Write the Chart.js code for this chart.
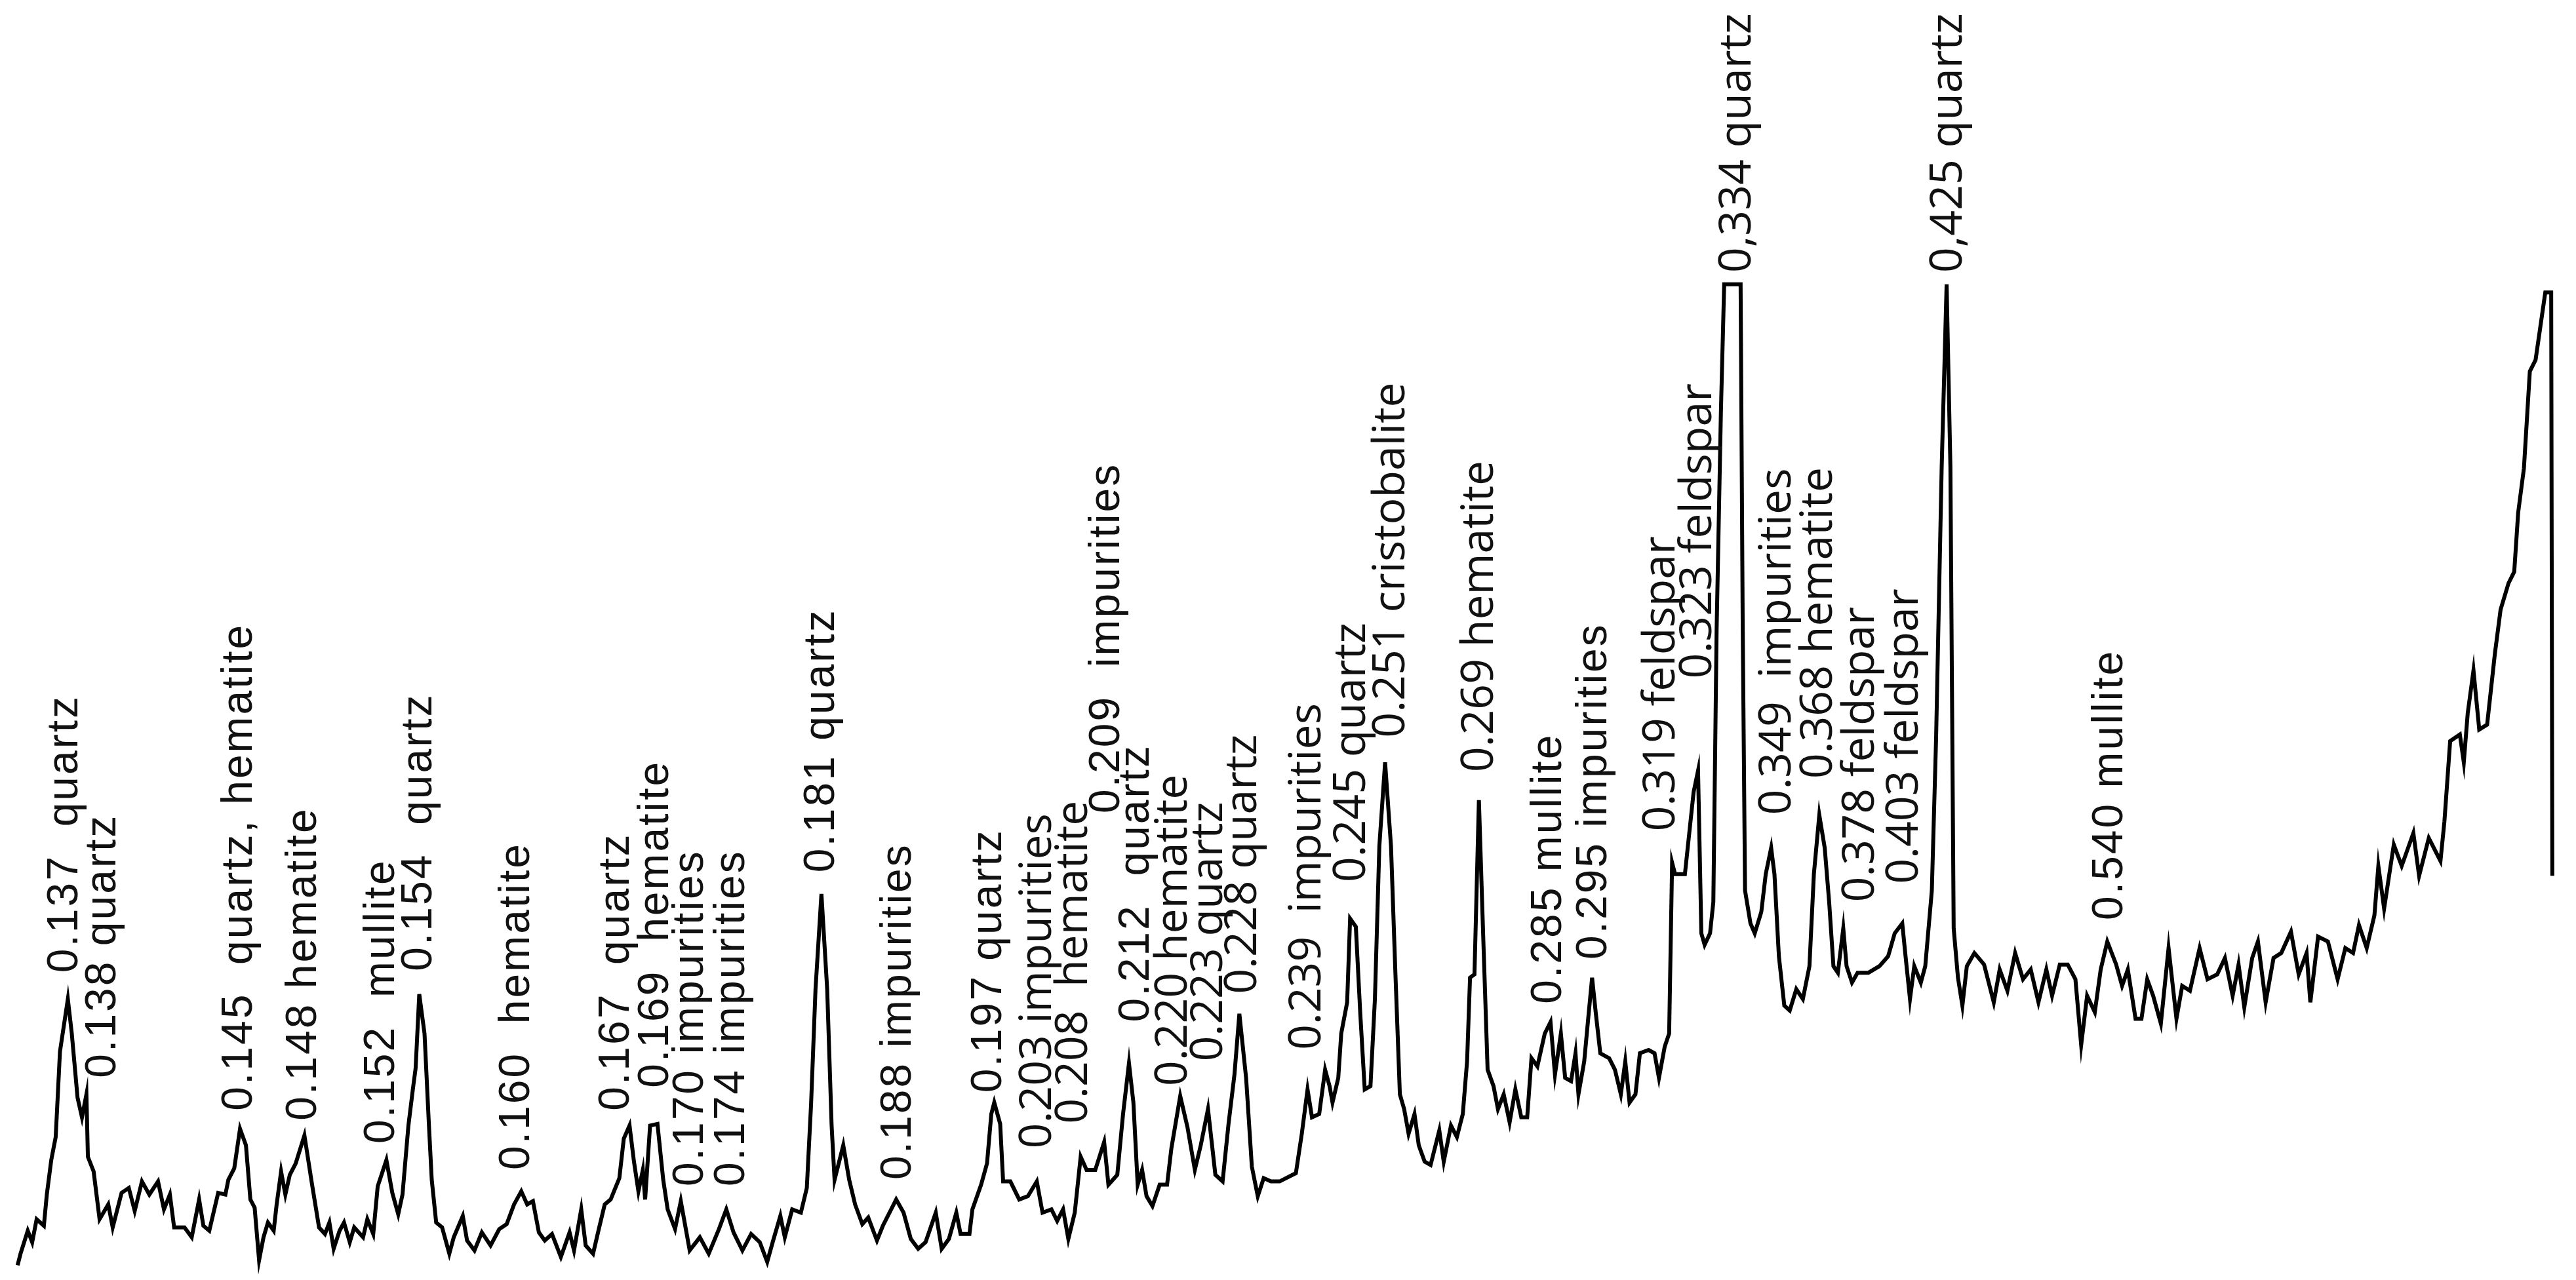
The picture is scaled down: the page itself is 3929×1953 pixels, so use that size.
<!DOCTYPE html>
<html>
<head>
<meta charset="utf-8">
<title>XRD pattern</title>
<script src="https://cdn.jsdelivr.net/npm/chart.js@4.4.1/dist/chart.umd.min.js"></script>
<style>
    html, body { margin: 0; padding: 0; background: #fff; }
    #myChart { display: block; width: 3929px; height: 1953px; }
</style>
</head>
<body>
<canvas id="myChart" width="3929" height="1953"></canvas>
<script>
// scan position (arbitrary units, left to right) and intensity (a.u.)
const positions = [
    10.7, 12.5, 16.9, 19.6, 22.3, 26.7, 28.5, 31.2, 33.9, 36.5, 41.3, 43.7, 47.2, 49.9, 52.6, 53.5, 57.0, 60.6, 65.9, 68.6,
    74.0, 78.4, 82.0, 86.4, 90.9, 96.2, 99.8, 103.4, 106.0, 112.3, 116.7, 121.2, 123.8, 127.4, 132.8, 137.2, 139.0, 142.6, 146.1, 149.7,
    152.4, 155.0, 157.7, 160.4, 163.1, 166.6, 168.4, 171.1, 173.7, 176.4, 180.0, 185.3, 189.8, 194.2, 197.8, 200.5, 203.1, 206.7, 209.4, 212.9,
    215.6, 221.0, 223.6, 227.2, 229.9, 235.2, 238.8, 242.4, 245.0, 248.6, 251.3, 253.0, 255.2, 258.4, 261.1, 262.8, 265.5, 269.1, 273.5, 276.2,
    281.7, 284.3, 288.8, 293.3, 298.6, 303.9, 308.4, 312.9, 317.3, 320.9, 324.4, 328.0, 331.6, 336.0, 341.4, 346.7, 349.4, 353.8, 356.5, 361.0,
    364.5, 368.1, 371.7, 377.0, 379.7, 383.2, 385.9, 388.6, 391.3, 392.7, 395.7, 400.2, 403.7, 406.4, 410.9, 414.4, 419.8, 426.0, 431.4, 437.6,
    442.1, 446.5, 451.9, 457.2, 462.5, 467.0, 470.6, 475.0, 477.7, 482.2, 487.5, 491.1, 493.7, 496.4, 500.0, 503.5, 506.2, 508.0, 513.3, 516.9,
    520.5, 524.9, 528.5, 533.8, 537.4, 545.5, 550.0, 554.4, 558.9, 563.4, 569.6, 573.2, 577.6, 582.1, 584.7, 590.1, 591.9, 597.2, 600.8, 603.4,
    605.2, 608.8, 610.6, 615.0, 620.4, 625.7, 631.1, 634.6, 640.0, 643.5, 647.1, 650.3, 654.2, 657.8, 661.4, 666.7, 672.1, 674.7, 680.1, 683.6,
    687.2, 689.9, 692.5, 695.2, 697.9, 701.5, 705.9, 710.4, 713.0, 718.4, 722.8, 727.3, 730.9, 735.3, 739.8, 744.2, 747.8, 751.4, 754.4, 758.5,
    762.0, 765.6, 769.2, 773.6, 778.9, 788.8, 792.4, 795.9, 798.6, 803.0, 806.6, 809.3, 811.1, 814.6, 816.4, 820.0, 821.8, 825.3, 828.0, 830.7,
    834.2, 836.9, 839.6, 843.1, 846.7, 849.4, 852.1, 854.7, 857.4, 861.0, 863.6, 867.2, 870.8, 876.1, 878.8, 883.2, 886.8, 890.4, 893.0, 894.8,
    897.5, 900.2, 902.8, 905.5, 909.1, 911.8, 915.3, 918.9, 922.4, 926.0, 929.6, 932.2, 935.8, 940.3, 943.8, 946.5, 950.1, 952.7, 956.3, 959.0,
    960.8, 964.3, 967.0, 969.1, 971.4, 974.1, 979.5, 983.0, 986.6, 989.3, 991.9, 995.5, 998.2, 1003.5, 1007.1, 1009.8, 1013.3, 1016.0, 1017.8, 1019.6,
    1025.6, 1030.9, 1033.6, 1035.6, 1037.6, 1040.9, 1042.9, 1044.9, 1047.5, 1049.5, 1059.5, 1060.8, 1062.2, 1065.5, 1068.1, 1072.1, 1074.8, 1078.1, 1080.1, 1082.8,
    1086.1, 1089.4, 1093.4, 1097.4, 1101.4, 1104.1, 1107.4, 1110.7, 1113.4, 1116.0, 1118.7, 1122.0, 1124.0, 1127.3, 1130.7, 1137.3, 1144.0, 1149.3, 1153.3, 1157.9,
    1159.9, 1162.6, 1165.2, 1169.2, 1171.9, 1175.9, 1178.5, 1181.9, 1184.9, 1187.2, 1189.2, 1191.8, 1194.5, 1197.2, 1201.8, 1207.7, 1213.6, 1217.2, 1221.9, 1226.6,
    1231.4, 1236.1, 1240.8, 1245.6, 1249.1, 1253.8, 1258.6, 1263.3, 1266.8, 1270.4, 1275.1, 1278.7, 1282.7, 1288.1, 1291.7, 1295.2, 1299.9, 1303.5, 1307.0, 1310.6,
    1315.3, 1320.0, 1324.8, 1328.3, 1333.0, 1338.9, 1343.7, 1349.6, 1354.3, 1359.0, 1362.6, 1366.1, 1370.9, 1374.4, 1379.1, 1383.9, 1388.6, 1394.5, 1399.2, 1404.0,
    1406.3, 1411.0, 1417.0, 1422.9, 1427.6, 1432.3, 1435.9, 1440.6, 1445.3, 1447.7, 1451.2, 1457.1, 1461.9, 1469.0, 1472.5, 1478.4, 1485.5, 1487.9, 1491.4, 1497.3,
    1499.7, 1502.1, 1505.6, 1509.1, 1513.9, 1518.6, 1522.1, 1526.9, 1530.4, 1532.8, 1536.3, 1539.9, 1543.4, 1549.3, 1552.9, 1553.6
];

const intensity = [
    9, 16, 30, 23, 37, 33, 52, 73, 87, 139, 171, 150, 111, 99, 113, 75, 66, 37, 46, 32,
    53, 56, 42, 60, 52, 60, 43, 52, 32, 32, 26, 49, 33, 30, 53, 52, 61, 68, 92, 82,
    49, 44, 12, 26, 35, 30, 46, 66, 52, 64, 71, 88, 59, 32, 28, 35, 19, 30, 35, 23,
    32, 26, 37, 28, 57, 73, 53, 40, 52, 94, 116, 129, 174, 150, 94, 61, 35, 32, 16, 26,
    39, 24, 18, 29, 21, 31, 34, 46, 54, 46, 48, 29, 24, 28, 14, 29, 18, 43, 21, 16,
    31, 46, 49, 62, 86, 94, 72, 54, 67, 49, 94, 95, 61, 43, 31, 48, 18, 26, 16, 31,
    43, 29, 18, 28, 23, 11, 24, 39, 26, 43, 41, 56, 107, 177, 235, 177, 94, 61, 82, 61,
    46, 34, 38, 24, 33, 49, 41, 25, 19, 23, 41, 19, 25, 41, 28, 28, 43, 58, 71, 101,
    108, 95, 60, 60, 49, 51, 60, 41, 43, 36, 43, 25, 41, 75, 67, 67, 84, 58, 64, 101,
    132, 108, 58, 67, 51, 45, 58, 58, 80, 112, 93, 67, 82, 104, 64, 60, 95, 125, 162, 123,
    69, 51, 62, 60, 60, 65, 89, 116, 99, 101, 128, 118, 108, 123, 150, 169, 220, 215, 162, 116,
    118, 171, 264, 315, 264, 186, 113, 104, 89, 101, 82, 72, 70, 91, 72, 94, 87, 101, 133, 184,
    186, 292, 210, 128, 118, 104, 113, 96, 116, 99, 99, 135, 130, 150, 157, 125, 150, 123, 121, 138,
    113, 133, 162, 184, 162, 138, 135, 128, 113, 133, 108, 113, 138, 140, 138, 123, 142, 150, 254, 247,
    247, 297, 310, 211, 204, 211, 230, 396, 528, 606, 606, 396, 237, 217, 211, 224, 247, 263, 247, 197,
    167, 164, 177, 171, 191, 247, 283, 263, 230, 191, 187, 214, 191, 181, 187, 187, 191, 197, 211, 217,
    197, 171, 191, 181, 191, 237, 330, 495, 606, 495, 214, 184, 167, 191, 199, 192, 169, 189, 176, 199,
    183, 189, 169, 189, 173, 192, 192, 183, 143, 173, 163, 189, 206, 192, 179, 189, 159, 159, 183, 173,
    156, 202, 159, 179, 176, 202, 183, 186, 196, 173, 192, 166, 196, 206, 169, 196, 199, 212, 186, 199,
    169, 209, 206, 183, 202, 199, 216, 202, 222, 252, 226, 265, 252, 272, 246, 269, 255, 279, 328, 332,
    315, 345, 371, 335, 338, 381, 408, 424, 431, 467, 494, 553, 560, 601, 601, 246
];

// peak annotations: text, position of the peak, intensity where the text starts
const peakLabels = [
    "0.137  quartz", "0.138 quartz", "0.145  quartz, hematite", "0.148 hematite", "0.152  mullite", "0.154  quartz",
    "0.160  hematite", "0.167  quartz", "0.169  hematite", "0.170 impurities", "0.174 impurities", "0.181 quartz",
    "0.188 impurities", "0.197 quartz", "0.203 impurities", "0.208  hematite", "0.209  impurities", "0.212  quartz",
    "0.220 hematite", "0.223 quartz", "0.228 quartz", "0.239  impurities", "0.245 quartz", "0.251 cristobalite",
    "0.269 hematite", "0.285 mullite", "0.295 impurities", "0.319 feldspar", "0.323 feldspar", "0,334 quartz",
    "0.349  impurities", "0.368 hematite", "0.378 feldspar", "0.403 feldspar", "0,425 quartz", "0.540 mullite"
];
const peakLabelX = [
    39.7, 63, 146, 185, 232.5, 255.5,
    314.6, 375.4, 399.3, 420.7, 445.6, 500.3,
    547, 602, 632, 654, 674, 692,
    714.5, 736, 757, 796, 823, 847,
    901, 943, 970.3, 1011.7, 1034, 1058,
    1082, 1107.5, 1133, 1159.6, 1186.4, 1284.6
];
const peakLabelY = [
    187, 123, 103, 97, 83, 188,
    67, 103, 117, 57, 57, 248,
    61, 114, 80, 95, 284, 157,
    118, 133, 174, 140, 242, 330,
    309, 168, 195, 273, 366, 613,
    283, 305, 230, 241, 613, 219
];

// labels typeset in the rounder face in the original figure
const openSansLabels = new Set([14, 15, 18, 19, 20, 21, 22, 23, 24, 27, 28, 29, 30, 31, 32, 33, 34]);

const peakLabelPlugin = {
    id: 'peakLabels',
    afterDatasetsDraw(chart) {
        const ctx = chart.ctx;
        const xScale = chart.scales.x;
        const yScale = chart.scales.y;
        ctx.save();
        ctx.fillStyle = '#111';
        ctx.textAlign = 'left';
        ctx.textBaseline = 'middle';
        peakLabels.forEach((text, i) => {
            const px = xScale.getPixelForValue(peakLabelX[i]);
            const py = yScale.getPixelForValue(peakLabelY[i]);
            if (openSansLabels.has(i)) {
                ctx.font = '68px "Open Sans"';
                ctx.letterSpacing = '0px';
            } else {
                ctx.font = '66px "Liberation Sans", Arial';
                ctx.letterSpacing = '3px';
            }
            ctx.save();
            ctx.translate(px, py);
            ctx.rotate(-Math.PI / 2);
            ctx.fillText(text, 0, 0);
            ctx.restore();
        });
        ctx.restore();
    }
};

const ctx = document.getElementById('myChart').getContext('2d');

new Chart(ctx, {
    type: 'line',
    data: {
        datasets: [
            {
                label: 'Intensity',
                data: positions.map((p, i) => ({ x: p, y: intensity[i] })),
                borderColor: '#000',
                borderWidth: 6,
                pointRadius: 0,
                tension: 0,
                fill: false,
                borderJoinStyle: 'miter'
            }
        ]
    },
    options: {
        responsive: false,
        devicePixelRatio: 1,
        animation: false,
        layout: { padding: 0 },
        plugins: {
            legend: { display: false },
            tooltip: { enabled: false }
        },
        scales: {
            x: { type: 'linear', min: 0, max: 1568, display: false },
            y: { type: 'linear', min: 0, max: 779, display: false }
        }
    },
    plugins: [peakLabelPlugin]
});
</script>
</body>
</html>
